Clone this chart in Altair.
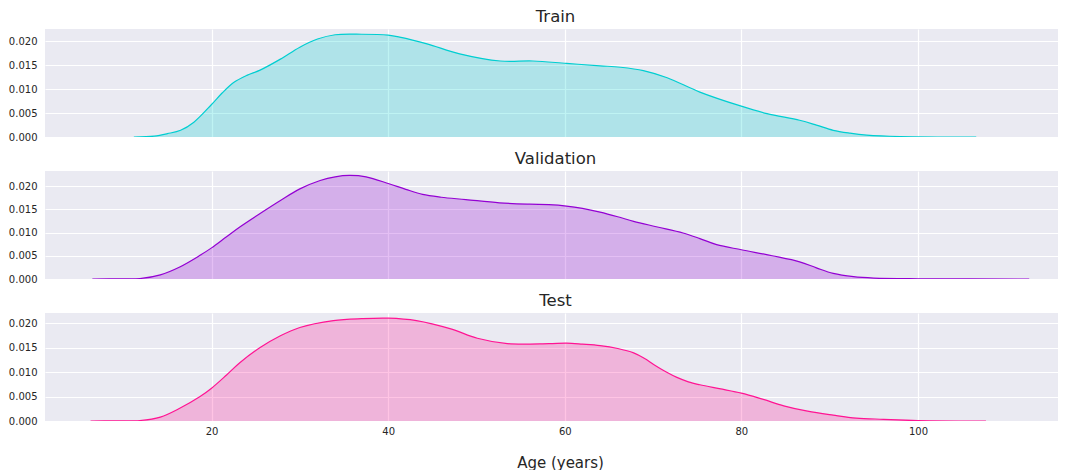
import altair as alt
import pandas as pd

# ---- data (KDE curves of age) ----
train_age = [11.2, 13.5, 15.0, 16.5, 18.0, 20.0, 21.2, 22.5, 24.0, 25.5, 27.8, 30.0, 32.0, 34.0, 37.0, 40.0,
             41.3, 44.4, 48.1, 52.7, 56.4, 60.2, 64.0, 66.3, 68.9, 71.6, 75.3, 79.9,
             82.9, 86.6, 88.5, 90.4, 92.3, 94.2, 98.0, 106.6]
train_den = [0.0, 0.0002, 0.0007, 0.0014, 0.0031, 0.0068, 0.0092, 0.0114, 0.0129, 0.0140, 0.0163, 0.0188, 0.0205, 0.0214, 0.0215, 0.0213,
             0.0209, 0.0195, 0.0174, 0.0159, 0.0159, 0.0154, 0.0149, 0.0146, 0.0139, 0.0124, 0.0094, 0.0065,
             0.0049, 0.0035, 0.0025, 0.0014, 0.0008, 0.0004, 0.0001, 0.0]

val_age = [6.5, 10.0, 11.9, 14.2, 16.4, 18.7, 20.0, 21.7, 23.2, 25.5, 27.8, 30.0, 32.3, 34.0, 35.6, 37.5,
           40.1, 42.0, 43.9, 46.0, 48.8, 52.6, 56.0, 58.2, 60.2, 62.0, 64.0, 66.0, 67.8, 70.5, 73.4, 75.3, 77.2,
           80.0, 83.5, 86.6, 88.5, 90.4, 92.7, 95.0, 100.0, 112.6]
val_den = [0.0, 0.00003, 0.0001, 0.0009, 0.0026, 0.0051, 0.0067, 0.0091, 0.0112, 0.0141, 0.0169, 0.0194, 0.0212, 0.0220, 0.0223, 0.0220,
           0.0205, 0.0193, 0.0182, 0.0176, 0.0171, 0.0164, 0.0161, 0.0160, 0.0157, 0.0152, 0.0144, 0.0134, 0.0124, 0.0112, 0.0099, 0.0087, 0.0074,
           0.0063, 0.0050, 0.0037, 0.0024, 0.0012, 0.0005, 0.0002, 0.00005, 0.0]

test_age = [6.3, 9.0, 11.9, 14.2, 16.4, 18.7, 20.0, 21.7, 23.2, 25.5, 27.8, 30.0, 33.8, 37.0, 40.0, 43.2,
            47.1, 50.1, 53.5, 58.2, 60.2, 62.0, 64.0, 66.0, 67.8, 69.0, 70.2, 71.5, 72.7, 74.0, 75.3, 77.5, 80.0,
            82.5, 84.8, 87.5, 90.4, 93.0, 96.1, 100.0, 107.7]
test_den = [0.0, 0.00003, 0.0001, 0.0008, 0.0026, 0.0050, 0.0067, 0.0094, 0.0119, 0.0150, 0.0174, 0.0191, 0.0205, 0.0209, 0.0210, 0.0205,
            0.0188, 0.0169, 0.0158, 0.0158, 0.0159, 0.0157, 0.0154, 0.0148, 0.0139, 0.0128, 0.0114, 0.0100, 0.0089, 0.0080, 0.0074, 0.0066, 0.0057,
            0.0044, 0.0031, 0.0020, 0.0012, 0.0006, 0.00035, 0.0001, 0.0]

splits = ["Train", "Validation", "Test"]
colors = ["#00CED1", "#9400D3", "#FF1493"]
ymax = [0.0226, 0.02325, 0.02205]
y_ticks = [0.0, 0.005, 0.010, 0.015, 0.020]
x_ticks = [20, 40, 60, 80, 100]
x_domain = [1.14, 115.86]

series = [(train_age, train_den), (val_age, val_den), (test_age, test_den)]

W, H = 1013, 108
FONT = "DejaVu Sans"


def panel(i):
    ages, dens = series[i]
    df = pd.DataFrame({"age": ages, "density": dens})
    last = i == 2
    xaxis = alt.Axis(values=x_ticks, labels=last, labelFontSize=10, labelPadding=5,
                     title="Age (years)" if last else None, titleFontSize=15,
                     titleFontWeight="normal", titlePadding=19, titleX=515)
    base = alt.Chart(df).encode(
        x=alt.X("age:Q", scale=alt.Scale(domain=x_domain, nice=False, zero=False), axis=xaxis),
        y=alt.Y("density:Q", scale=alt.Scale(domain=[0, ymax[i]], nice=False),
                axis=alt.Axis(values=y_ticks, format=".3f", title=None, labelFontSize=10, labelPadding=8)),
    )
    area = base.mark_area(color=colors[i], opacity=0.25, interpolate="catmull-rom", clip=True)
    line = base.mark_line(color=colors[i], strokeWidth=1.2, interpolate="catmull-rom", clip=True)
    return alt.layer(area, line).properties(
        width=W, height=H,
        title=alt.TitleParams(splits[i], fontSize=16.5, fontWeight="normal", color="#262626",
                              font=FONT, anchor="middle", dx=4, offset=4),
    )


chart = alt.vconcat(panel(0), panel(1), panel(2), spacing=8).properties(
    padding={"left": 0, "top": 0, "right": 0, "bottom": 0},
    background="white",
).configure_view(
    fill="#EAEAF2", strokeWidth=0
).configure_axis(
    grid=True, gridColor="white", gridWidth=1.2, gridOpacity=1, domain=False, ticks=False,
    labelColor="#262626", titleColor="#262626", labelFont=FONT, titleFont=FONT,
)

chart.save("out.html", embed_options={"renderer": "svg", "actions": False})
